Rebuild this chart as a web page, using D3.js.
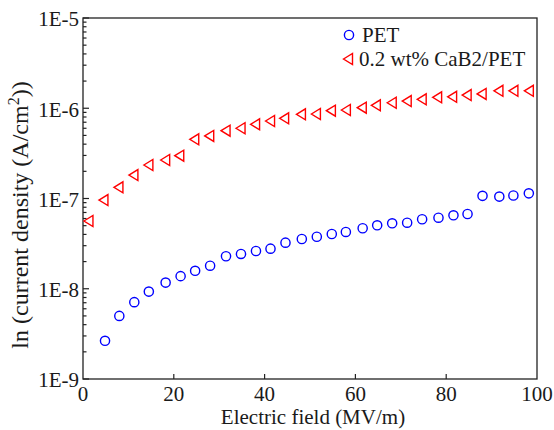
<!DOCTYPE html>
<html>
<head>
<meta charset="utf-8">
<script src="https://cdn.jsdelivr.net/npm/d3@7.9.0/dist/d3.min.js"></script>
<style>
  body { margin: 0; background: #fff; }
</style>
</head>
<body>
<svg id="chart" width="554" height="430"></svg>
<script>
// PET (blue circles)
const petField = [4.85, 8.0, 11.3, 14.5, 18.2, 21.5, 24.7, 28.0, 31.5, 34.8, 38.1, 41.3, 44.6, 48.2, 51.5,
  54.8, 57.9, 61.6, 64.8, 68.1, 71.4, 74.7, 78.3, 81.6, 84.7, 88.0, 91.7, 94.8, 98.2];
const petCurrent = [2.65e-9, 5.0e-9, 7.1e-9, 9.3e-9, 1.17e-8, 1.38e-8, 1.58e-8, 1.8e-8, 2.29e-8, 2.43e-8,
  2.62e-8, 2.78e-8, 3.24e-8, 3.56e-8, 3.77e-8, 4.04e-8, 4.26e-8, 4.68e-8, 5.05e-8, 5.31e-8, 5.39e-8,
  5.89e-8, 6.13e-8, 6.51e-8, 6.73e-8, 1.07e-7, 1.05e-7, 1.08e-7, 1.14e-7];

// 0.2 wt% CaB2/PET (red triangles)
const cabField = [1.2, 4.5, 7.8, 11.1, 14.4, 18.1, 21.2, 24.5, 27.8, 31.4, 34.7, 37.9, 41.2, 44.3, 48.0,
  51.3, 54.6, 57.9, 61.4, 64.5, 68.0, 71.3, 74.6, 78.0, 81.3, 84.5, 87.8, 91.5, 94.8, 98.2];
const cabCurrent = [5.63e-8, 9.6e-8, 1.33e-7, 1.82e-7, 2.35e-7, 2.67e-7, 2.98e-7, 4.53e-7, 4.93e-7, 5.64e-7,
  6.0e-7, 6.64e-7, 7.22e-7, 7.74e-7, 8.57e-7, 8.63e-7, 9.39e-7, 9.57e-7, 1.014e-6, 1.078e-6, 1.15e-6,
  1.2e-6, 1.256e-6, 1.32e-6, 1.34e-6, 1.4e-6, 1.44e-6, 1.56e-6, 1.56e-6, 1.56e-6];

const xTicks = [0, 20, 40, 60, 80, 100];
const yTicks = [1e-9, 1e-8, 1e-7, 1e-6, 1e-5];
const yTickLabels = ["1E-9", "1E-8", "1E-7", "1E-6", "1E-5"];
const seriesNames = ["PET", "0.2 wt% CaB2/PET"];

const serif = "'Times New Roman', 'Liberation Serif', Times, serif";
const margin = { top: 18, right: 17, bottom: 51, left: 83 };
const width = 554, height = 430;
const svg = d3.select("#chart")
  .attr("font-family", serif)
  .style("font-family", serif);

const x = d3.scaleLinear().domain([0, 100]).range([margin.left, width - margin.right]);
const y = d3.scaleLog().domain([1e-9, 1e-5]).range([height - margin.bottom, margin.top]);

// minor ticks on log axis
const minorTicks = [];
for (let e = -9; e < -5; e++) {
  for (let k = 2; k <= 9; k++) minorTicks.push(k * Math.pow(10, e));
}

const ax = svg.append("g").attr("stroke", "#222").attr("stroke-width", 1.2);

// frame
svg.append("rect")
  .attr("x", x(0)).attr("y", y(1e-5))
  .attr("width", x(100) - x(0)).attr("height", y(1e-9) - y(1e-5))
  .attr("fill", "none").attr("stroke", "#222").attr("stroke-width", 1.3);

// y ticks
ax.selectAll(".ymaj").data(yTicks).join("line")
  .attr("x1", x(0)).attr("x2", x(0) + 6)
  .attr("y1", d => y(d)).attr("y2", d => y(d));
ax.selectAll(".ymin").data(minorTicks).join("line")
  .attr("x1", x(0)).attr("x2", x(0) + 3.5)
  .attr("y1", d => y(d)).attr("y2", d => y(d));

// x ticks
ax.selectAll(".xt").data(xTicks.slice(1, -1)).join("line")
  .attr("x1", d => x(d)).attr("x2", d => x(d))
  .attr("y1", y(1e-9)).attr("y2", y(1e-9) - 5);

const txt = svg.append("g").attr("fill", "#1a1a1a");

txt.selectAll(".ylab").data(yTicks).join("text")
  .attr("x", x(0) - 4).attr("y", d => y(d) + 1).attr("dy", "0.35em")
  .attr("text-anchor", "end").attr("font-size", 21)
  .text((d, i) => yTickLabels[i]);

txt.selectAll(".xlab").data(xTicks).join("text")
  .attr("x", d => x(d)).attr("y", 401)
  .attr("text-anchor", "middle").attr("font-size", 21)
  .text(d => d);

txt.append("text")
  .attr("x", 313).attr("y", 424)
  .attr("text-anchor", "middle").attr("font-size", 21)
  .text("Electric field (MV/m)");

const yTitle = txt.append("text")
  .attr("transform", "translate(28,215) rotate(-90)")
  .attr("text-anchor", "middle").attr("font-size", 24);
yTitle.append("tspan").text("ln (current density (A/cm");
yTitle.append("tspan").attr("dy", -9).attr("font-size", 16).text("2");
yTitle.append("tspan").attr("dy", 9).text("))");

// markers
const triPath = "M-4.5,0L4.5,-5.5L4.5,5.5Z";

svg.append("g").selectAll("circle")
  .data(petField.map((f, i) => [f, petCurrent[i]]))
  .join("circle")
  .attr("cx", d => x(d[0])).attr("cy", d => y(d[1])).attr("r", 4.6)
  .attr("fill", "none").attr("stroke", "#0000ff").attr("stroke-width", 1.4);

svg.append("g").selectAll("path")
  .data(cabField.map((f, i) => [f, cabCurrent[i]]))
  .join("path")
  .attr("d", triPath)
  .attr("transform", d => `translate(${x(d[0])},${y(d[1])})`)
  .attr("fill", "none").attr("stroke", "#ff0000").attr("stroke-width", 1.4);

// legend
const lg = svg.append("g");
lg.append("circle").attr("cx", 349).attr("cy", 35).attr("r", 4.6)
  .attr("fill", "none").attr("stroke", "#0000ff").attr("stroke-width", 1.4);
lg.append("text").attr("x", 362).attr("y", 42).attr("font-size", 21).attr("fill", "#1a1a1a").text(seriesNames[0]);
lg.append("path").attr("d", triPath).attr("transform", "translate(348,59)")
  .attr("fill", "none").attr("stroke", "#ff0000").attr("stroke-width", 1.4);
lg.append("text").attr("x", 359).attr("y", 66).attr("font-size", 21).attr("fill", "#1a1a1a").text(seriesNames[1]);
</script>
</body>
</html>
